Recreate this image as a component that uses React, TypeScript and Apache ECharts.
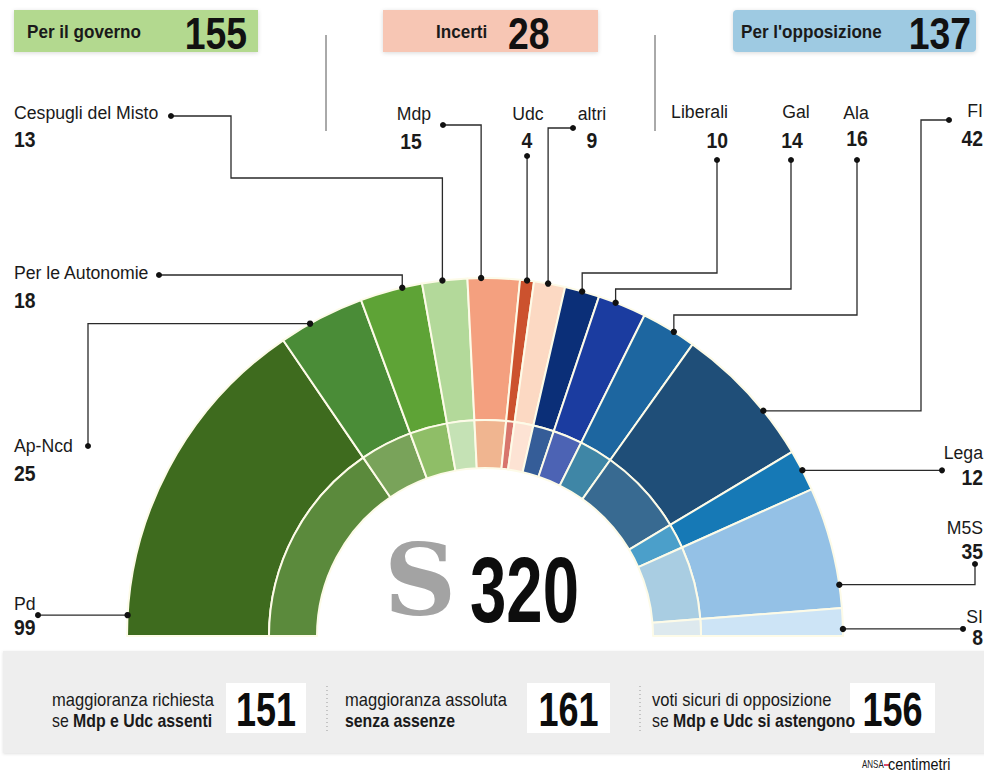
import React, { useEffect, useRef } from "react";
import * as echarts from "echarts";

// ---------- data ----------
const parties = ["Pd", "Ap-Ncd", "Per le Autonomie", "Cespugli del Misto", "Mdp", "Udc", "altri", "Liberali", "Gal", "Ala", "FI", "Lega", "M5S", "SI"];
const seats = [99, 25, 18, 13, 15, 4, 9, 10, 14, 16, 42, 12, 35, 8];
const outerColors = ["#3e6b1e", "#4a8c37", "#5ea336", "#b3d99a", "#f4a07f", "#cc522e", "#fcd9c3", "#0b2f78", "#1b3ca0", "#1d66a0", "#1f4e78", "#1679b6", "#94c1e6", "#cde4f6"];
const innerColors = ["#5b8a3c", "#79a35a", "#8fbe67", "#c5e2b5", "#f0b590", "#d8766c", "#fde3d4", "#355d98", "#4c63b4", "#3f86a6", "#386a91", "#4b9fca", "#a9cde2", "#dde9ee"];
const groupNames = ["Per il governo", "Incerti", "Per l'opposizione"];
const groupTotals = [155, 28, 137];
const groupColors = ["#b3d98f", "#f7c6b4", "#9ecae2"];
const totalSeats = 320;
const summaryLine1 = ["maggioranza richiesta", "maggioranza assoluta", "voti sicuri di opposizione"];
const summaryLine2Regular = ["se ", "", "se "];
const summaryLine2Bold = ["Mdp e Udc assenti", "senza assenze", "Mdp e Udc si astengono"];
const summaryValues = [151, 161, 156];

// ---------- layout ----------
const CX = 485, CY = 636, R_OUT = 358, R_MID = 216, R_IN = 168;
const FN = '"Liberation Sans", Arial, "Helvetica", sans-serif';

type Lab = { nx: number; ny: number; vx: number; vy: number; align: string; frac: number; path: number[][]; dir: "v" | "h" };
const labels: Lab[] = [
  { nx: 14, ny: 603, vx: 14, vy: 627, align: "left", frac: 0.06, path: [[38, 615]], dir: "h" },
  { nx: 14, ny: 445, vx: 14, vy: 473, align: "left", frac: 0.36, path: [[88, 446], [88, 0]], dir: "h" },
  { nx: 14, ny: 272, vx: 14, vy: 300, align: "left", frac: 0.68, path: [[159, 275], [0, 275]], dir: "v" },
  { nx: 14, ny: 112, vx: 14, vy: 139, align: "left", frac: 0.45, path: [[171, 116], [231, 116], [231, 178], [0, 178]], dir: "v" },
  { nx: 414, ny: 113, vx: 411, vy: 141, align: "center", frac: 0.26, path: [[443, 125], [0, 125]], dir: "v" },
  { nx: 528, ny: 113, vx: 527, vy: 140, align: "center", frac: 0.5, path: [[0, 156]], dir: "v" },
  { nx: 592, ny: 113, vx: 592, vy: 140, align: "center", frac: 0.45, path: [[573, 128], [0, 128]], dir: "v" },
  { nx: 728, ny: 111, vx: 728, vy: 140, align: "right", frac: 0.5, path: [[717, 160], [717, 273], [0, 273]], dir: "v" },
  { nx: 796, ny: 111, vx: 792, vy: 140, align: "center", frac: 0.36, path: [[791, 160], [791, 289], [0, 289]], dir: "v" },
  { nx: 856, ny: 112, vx: 857, vy: 138, align: "center", frac: 0.6, path: [[857, 160], [857, 315], [0, 315]], dir: "v" },
  { nx: 983, ny: 110, vx: 983, vy: 138, align: "right", frac: 0.66, path: [[949, 120], [921, 120], [921, 0]], dir: "h" },
  { nx: 983, ny: 452, vx: 983, vy: 477, align: "right", frac: 0.5, path: [[942, 0]], dir: "h" },
  { nx: 983, ny: 527, vx: 983, vy: 551, align: "right", frac: 0.81, path: [[975, 564], [975, 0]], dir: "h" },
  { nx: 983, ny: 616, vx: 983, vy: 637, align: "right", frac: 0.75, path: [[963, 0]], dir: "h" },
];

function arcPoint(i: number, frac: number) {
  let s0 = 0;
  for (let k = 0; k < i; k++) s0 += seats[k];
  const s = s0 + frac * seats[i];
  const th = (s / totalSeats) * Math.PI;
  return [CX - R_OUT * Math.cos(th), CY - R_OUT * Math.sin(th)];
}

function txt(x: number, y: number, text: string, size: number, weight: any, align = "left", sx = 1, fill = "#1a1a1a", family = FN) {
  return {
    type: "text", x, y, scaleX: sx, silent: true, z: 10,
    style: { text, fontSize: size, fontWeight: weight, fontFamily: family, fill, align, verticalAlign: "middle" },
  };
}

function buildGraphics() {
  const g: any[] = [];

  // header boxes
  const boxes = [
    { x: 14, w: 244, tx: 27, vx: 247, valign: "right" },
    { x: 383, w: 215, tx: 436, vx: 508, valign: "left" },
    { x: 733, w: 243, tx: 741, vx: 971, valign: "right" },
  ];
  boxes.forEach((b, i) => {
    g.push({ type: "rect", shape: { x: b.x, y: 10, width: b.w, height: 42, r: i === 2 ? 4 : 0 }, style: { fill: groupColors[i], shadowBlur: 4, shadowColor: "rgba(0,0,0,0.15)", shadowOffsetY: 1 }, silent: true });
    g.push(txt(b.tx, 32, groupNames[i], 19, "bold", "left", 0.9));
    g.push(txt(b.vx, 34, String(groupTotals[i]), 45, "bold", b.valign, 0.83, "#111"));
  });

  // top separators
  [326, 655].forEach((x) => g.push({ type: "line", shape: { x1: x, y1: 35, x2: x, y2: 131 }, style: { stroke: "#555", lineWidth: 1 }, silent: true }));

  // party labels + leaders
  labels.forEach((L, i) => {
    g.push(txt(L.nx, L.ny, parties[i], 19, "normal", L.align, 0.93));
    g.push(txt(L.vx, L.vy, String(seats[i]), 22, "bold", L.align, 0.88));
    const end = arcPoint(i, L.frac);
    const pts = L.path.map((p) => p.slice());
    const last = pts[pts.length - 1];
    if (L.dir === "v") last[0] = end[0];
    else last[1] = end[1];
    const all = [...pts, end];
    g.push({ type: "polyline", shape: { points: all }, style: { stroke: "#2a2a2a", lineWidth: 1.3, fill: null }, silent: true, z: 5 });
    g.push({ type: "circle", shape: { cx: all[0][0], cy: all[0][1], r: 3 }, style: { fill: "#111" }, silent: true, z: 6 });
    g.push({ type: "circle", shape: { cx: end[0], cy: end[1], r: 3.2 }, style: { fill: "#111" }, silent: true, z: 6 });
  });

  // center
  g.push(txt(420, 580, "S", 100, "bold", "center", 1, "#a3a3a3", '"DejaVu Serif", "Liberation Serif", serif'));
  g.push(txt(470, 590, String(totalSeats), 92, "bold", "left", 0.71, "#0d0d0d"));

  // bottom panel
  g.push({ type: "rect", shape: { x: 3, y: 651, width: 990, height: 102 }, style: { fill: "#eeeeee", shadowBlur: 3, shadowColor: "rgba(0,0,0,0.12)", shadowOffsetY: 1 }, silent: true });
  const cols = [
    { tx: 52, bx: 226, bw: 80 },
    { tx: 345, bx: 527, bw: 83 },
    { tx: 652, bx: 850, bw: 85 },
  ];
  cols.forEach((c, i) => {
    g.push(txt(c.tx, 700, summaryLine1[i], 18, "normal", "left", 0.92));
    g.push({
      type: "text", x: c.tx, y: 721, scaleX: 0.88, silent: true, z: 10,
      style: {
        text: (summaryLine2Regular[i] ? "{a|" + summaryLine2Regular[i] + "}" : "") + "{b|" + summaryLine2Bold[i] + "}",
        verticalAlign: "middle",
        rich: {
          a: { fontSize: 18, fontFamily: FN, fill: "#1a1a1a" },
          b: { fontSize: 18, fontFamily: FN, fontWeight: "bold", fill: "#1a1a1a" },
        },
      },
    });
    g.push({ type: "rect", shape: { x: c.bx, y: 683, width: c.bw, height: 50 }, style: { fill: "#ffffff" }, silent: true });
    g.push(txt(c.bx + c.bw / 2, 710, String(summaryValues[i]), 48, "bold", "center", 0.75, "#0d0d0d"));
  });
  [327, 640].forEach((x) => g.push({ type: "line", shape: { x1: x, y1: 686, x2: x, y2: 734 }, style: { stroke: "#999", lineWidth: 1, lineDash: [1, 3] }, silent: true }));

  // credit
  g.push(txt(862, 765, "ANSA", 10, "normal", "left", 0.8, "#222"));
  g.push({ type: "line", shape: { x1: 884, y1: 765, x2: 890, y2: 765 }, style: { stroke: "#d0103a", lineWidth: 1.5 }, silent: true });
  g.push(txt(888, 764, "centimetri", 16, "normal", "left", 0.9, "#111"));
  return g;
}

export default function App() {
  const ref = useRef<HTMLDivElement>(null);
  useEffect(() => {
    if (!ref.current) return;
    const chart = echarts.init(ref.current, null, { renderer: "svg" });
    const common = {
      type: "pie",
      center: [CX, CY],
      startAngle: 180,
      endAngle: 0,
      clockwise: true,
      silent: true,
      label: { show: false },
      labelLine: { show: false },
      emphasis: { disabled: true },
      avoidLabelOverlap: false,
    };
    chart.setOption({
      animation: false,
      backgroundColor: "#ffffff",
      series: [
        {
          ...common,
          name: "outer",
          radius: [R_MID, R_OUT],
          itemStyle: { borderColor: "#fdfbe8", borderWidth: 2 },
          data: parties.map((p, i) => ({ name: p, value: seats[i], itemStyle: { color: outerColors[i] } })),
        },
        {
          ...common,
          name: "inner",
          radius: [R_IN, R_MID],
          itemStyle: { borderColor: "#fdfbe8", borderWidth: 2 },
          data: parties.map((p, i) => ({ name: p, value: seats[i], itemStyle: { color: innerColors[i] } })),
        },
      ],
      graphic: buildGraphics(),
    });
    return () => chart.dispose();
  }, []);
  return <div ref={ref} style={{ position: "fixed", left: 0, top: 0, width: 984, height: 774 }} />;
}
